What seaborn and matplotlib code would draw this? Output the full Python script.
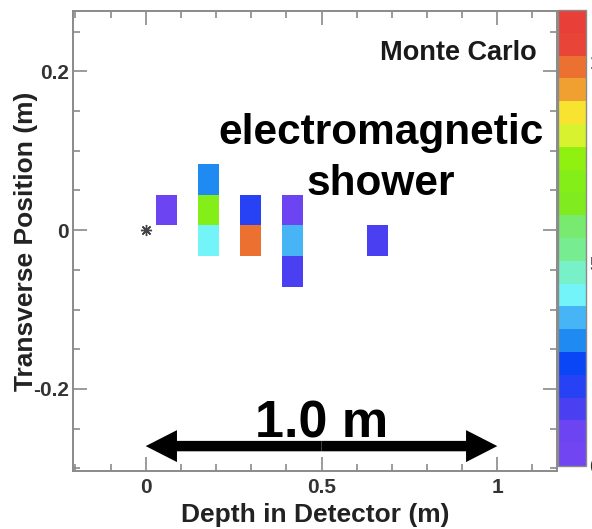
import numpy as np
import matplotlib
matplotlib.use("Agg")
import matplotlib.pyplot as plt
from matplotlib.colors import ListedColormap
from matplotlib.patches import FancyArrowPatch
from matplotlib.ticker import MultipleLocator, FuncFormatter
import seaborn as sns

# centres of the hit cells (m) and the energy in each cell
depth = [0.058, 0.178, 0.178, 0.178, 0.298, 0.298, 0.418, 0.418, 0.418, 0.658]
transverse = [0.0255, 0.064, 0.0255, -0.0135, 0.0255, -0.0135,
              0.0255, -0.0135, -0.052, -0.0135]
energy = [0.8, 3.1, 7.0, 4.2, 2.0, 9.85, 0.8, 3.7, 1.4, 1.4]

# colour bar: 20 levels, read from bottom to top
palette = ['#7146f2', '#6c44f2', '#4a40f2', '#2742f5', '#0a46f5',
           '#1e8af2', '#46b4f5', '#72f4f8', '#78f0c8', '#78ec90',
           '#78ea70', '#80ec20', '#84ee18', '#90f010', '#d8f230',
           '#f8e430', '#f0a030', '#ec7030', '#e84438', '#e84038']
z_max = 11.26
cbar_ticks = [0, 5, 10]

# interaction vertex and the 1 m scale arrow
vertex_x = [0.0]
vertex_y = [0.0]
arrow_x = (0.0, 1.0)
arrow_y = -0.272

sns.set_style("ticks")
plt.rcParams['font.family'] = ['Liberation Sans', 'DejaVu Sans']
plt.rcParams['font.weight'] = 'bold'
plt.rcParams['axes.labelweight'] = 'bold'

fig = plt.figure(figsize=(5.92, 5.29), dpi=100)
ax = fig.add_axes([0.1238, 0.1102, 0.8166, 0.8690])
cax = fig.add_axes([0.9426, 0.1191, 0.0481, 0.8620])

x_edges = np.arange(-0.212, 1.2, 0.06)
y_edges = np.arange(-0.302, 0.29, 0.0385)

sns.histplot(x=depth, y=transverse, weights=energy, bins=(x_edges, y_edges),
             cmap=ListedColormap(palette), vmin=0, vmax=z_max,
             cbar=True, cbar_ax=cax, cbar_kws={'ticks': cbar_ticks},
             linewidth=0, ax=ax)

ax.plot(vertex_x, vertex_y, ls='none', marker=(8, 2, 0), ms=8, mew=1,
        color='#444444')

mid = (arrow_x[0] + arrow_x[1]) / 2
for end in arrow_x:
    ax.add_patch(FancyArrowPatch((mid, arrow_y), (end, arrow_y),
                                 arrowstyle='simple,head_length=2.25,head_width=2.3,tail_width=0.75',
                                 mutation_scale=10, color='k', lw=0,
                                 shrinkA=0, shrinkB=0, zorder=4))

ax.text(0.5, -0.261, '1.0 m', ha='center', va='baseline', fontsize=37.5,
        color='k')
# va='baseline' lines up the last line (shower)
ax.text(0.6365, 0.5997, 'electromagnetic\nshower', transform=ax.transAxes,
        ha='center', va='baseline', multialignment='center', fontsize=30.5,
        linespacing=1.35, color='k')
ax.text(0.959, 0.893, 'Monte Carlo', transform=ax.transAxes, ha='right',
        va='baseline', fontsize=19.5, color='#1a1a1a')

ax.set_xlim(-0.206, 1.169)
ax.set_ylim(-0.303, 0.276)
ax.xaxis.set_major_locator(MultipleLocator(0.5))
ax.xaxis.set_minor_locator(MultipleLocator(0.1))
ax.yaxis.set_major_locator(MultipleLocator(0.2))
ax.yaxis.set_minor_locator(MultipleLocator(0.05))
fmt = FuncFormatter(lambda v, p: '%g' % round(v, 3))
ax.xaxis.set_major_formatter(fmt)
ax.yaxis.set_major_formatter(fmt)

ax.tick_params(which='both', direction='in', top=True, right=True,
               color='#8a8a8a', width=1.2, labelsize=15, labelcolor='#333333')
ax.tick_params(which='major', length=10)
ax.tick_params(which='minor', length=5)
ax.tick_params(axis='x', pad=5)
ax.tick_params(axis='y', pad=3)
for s in ax.spines.values():
    s.set_color('#8a8a8a')
    s.set_linewidth(1.4)

ax.set_xlabel('Depth in Detector (m)', fontsize=19, color='#222222')
ax.set_ylabel('Transverse Position (m)', fontsize=19, color='#222222')
ax.xaxis.set_label_coords(0.5, -0.07)
ax.yaxis.set_label_coords(-0.072, 0.5)

cbar = ax.collections[0].colorbar
cbar.outline.set_edgecolor('#8a8a8a')
cbar.outline.set_linewidth(1)
cbar.ax.tick_params(direction='in', length=11, width=1.2, color='#555555',
                    labelsize=15, labelcolor='#333333', pad=2)

fig.savefig('out.png', dpi=100)
